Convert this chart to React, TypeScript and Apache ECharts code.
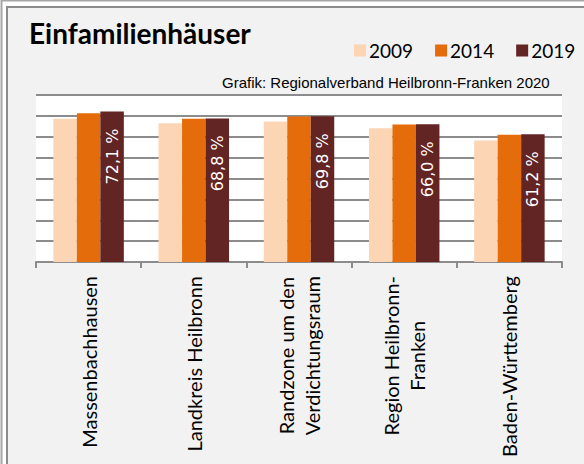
import React, { useEffect, useRef } from "react";
import * as echarts from "echarts";

const categories = [
  "Massenbachhausen",
  "Landkreis Heilbronn",
  "Randzone um den\nVerdichtungsraum",
  "Region Heilbronn-\nFranken",
  "Baden-Württemberg",
];
const years = ["2009", "2014", "2019"];
const v2009 = [68.6, 66.5, 67.3, 64.1, 58.2];
const v2014 = [71.3, 68.6, 69.7, 65.9, 60.9];
const v2019 = [72.1, 68.8, 69.8, 66.0, 61.2];
const colors = ["#fcd5b5", "#e46c0a", "#632523"];

const FONT = "Lato";

export default function App() {
  const ref = useRef<HTMLDivElement>(null);
  useEffect(() => {
    if (!ref.current) return;
    const chart = echarts.init(ref.current, undefined, { renderer: "svg" });
    const seriesData = [v2009, v2014, v2019];
    chart.setOption({
      animation: false,
      backgroundColor: "#ffffff",
      graphic: [
        {
          type: "rect",
          z: -100,
          shape: { x: 1.5, y: 0.5, width: 700, height: 700 },
          style: { fill: "#ffffff", stroke: "#a6a6a6", lineWidth: 2 },
        },
        {
          type: "rect",
          z: -99,
          shape: { x: 7, y: 7, width: 700, height: 700 },
          style: { fill: "#f2f2f2", stroke: "#8c8c8c", lineWidth: 2 },
        },
      ],
      title: [
        {
          text: "Einfamilienhäuser",
          left: 29,
          top: 19,
          padding: 0,
          textStyle: { fontFamily: FONT, fontSize: 28, fontWeight: "bold", color: "#000" },
        },
        {
          text: "Grafik: Regionalverband Heilbronn-Franken 2020",
          left: 222,
          top: 75,
          padding: 0,
          textStyle: { fontFamily: "Liberation Sans", fontSize: 15, fontWeight: "normal", color: "#000" },
        },
      ],
      legend: {
        data: years,
        left: 354,
        top: 41,
        padding: 0,
        itemWidth: 12,
        itemHeight: 12,
        itemGap: 22,
        icon: "rect",
        textStyle: { fontFamily: FONT, fontSize: 19, color: "#000", padding: [0, 0, 0, -2] },
      },
      grid: {
        left: 36,
        right: 22,
        top: 95,
        bottom: 202,
        show: true,
        backgroundColor: "#ffffff",
        borderWidth: 0,
      },
      xAxis: {
        type: "category",
        data: categories,
        axisLine: { show: true, lineStyle: { color: "#8c8c8c", width: 2 } },
        axisTick: { show: true, length: 6, lineStyle: { color: "#8c8c8c", width: 2 } },
        axisLabel: {
          rotate: 90,
          margin: 14,
          interval: 0,
          color: "#000",
          fontFamily: FONT,
          fontSize: 20,
          lineHeight: 26,
          formatter: (v: string) => v.split("\n").map((l) => `{c|${l}}`).join("\n"),
          rich: {
            c: { align: "center", fontFamily: FONT, fontSize: 20, lineHeight: 26, color: "#000" },
          },
        },
      },
      yAxis: {
        type: "value",
        min: 0,
        max: 80,
        interval: 10,
        axisLabel: { show: false },
        axisLine: { show: false },
        axisTick: { show: false },
        splitLine: { show: true, lineStyle: { color: "#8c8c8c", width: 2 } },
      },
      series: years.map((y, i) => ({
        name: y,
        type: "bar",
        data: seriesData[i],
        barGap: "0%",
        barCategoryGap: "33%",
        itemStyle: { color: colors[i] },
        label:
          i === 2
            ? {
                show: true,
                position: "insideTop",
                rotate: 90,
                align: "right",
                verticalAlign: "middle",
                distance: 17,
                color: "#ffffff",
                fontFamily: "DejaVu Sans",
                fontSize: 16,
                formatter: (p: any) => p.value.toFixed(1).replace(".", ",") + " %",
              }
            : { show: false },
      })),
      color: colors,
    });
    return () => chart.dispose();
  }, []);
  return (
    <div
      ref={ref}
      style={{ position: "fixed", left: 0, top: 0, width: 584, height: 464 }}
    />
  );
}
